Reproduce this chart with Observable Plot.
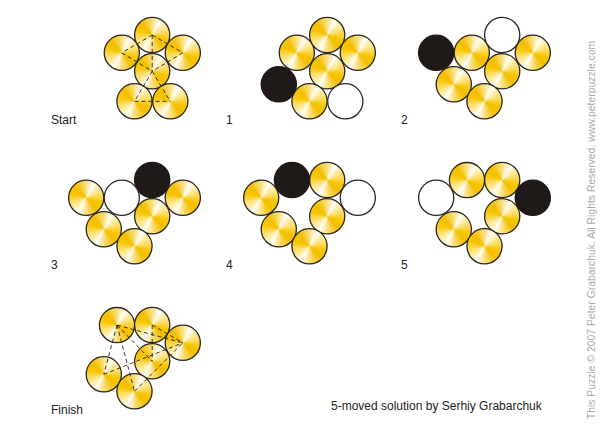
<!DOCTYPE html>
<html>
<head>
<meta charset="utf-8">
<script src="https://cdn.jsdelivr.net/npm/d3@7"></script>
<script src="https://cdn.jsdelivr.net/npm/@observablehq/plot@0.6"></script>
<style>
  html, body { margin: 0; padding: 0; background: #fff; }
  #wrap { position: relative; width: 600px; height: 430px; font-family: "Liberation Sans", Arial, sans-serif; }
  #caption { position: absolute; left: 331px; top: 399px; font-size: 12px; color: #222; white-space: nowrap; }
  #copy { position: absolute; left: 591px; top: 230px; font-size: 10.4px; color: #aaa; white-space: nowrap;
          transform: translate(-50%, -50%) rotate(-90deg); }
</style>
</head>
<body>
<div id="wrap">
  <div id="chart"></div>
  <div id="caption">5-moved solution by Serhiy Grabarchuk</div>
  <div id="copy">This Puzzle © 2007 Peter Grabarchuk. All Rights Reserved. www.peterpuzzle.com</div>
</div>
<script>
// Named coin spots (local panel coordinates)
const spotNames = ["A", "B", "C", "D", "E", "F", "G", "H", "I"];
const spotX = [111.7, 81.3, 142.3, 111.7, 94.0, 129.8, 63.3, 45.7, 76.5];
const spotY = [28.5, 46.3, 46.3, 64.8, 94.8, 94.8, 77.8, 46.3, 28.6];

// Panels: label, column, row
const panelLabels = ["Start", "1", "2", "3", "4", "5", "Finish"];
const panelCol = [0, 1, 2, 0, 1, 2, 0];
const panelRow = [0, 0, 0, 1, 1, 1, 2];

// Coins of each panel: gold coins, black (moved) coin, white (vacated) spot
const goldSpots = [
  ["A", "B", "C", "D", "E", "F"],
  ["A", "B", "C", "D", "E"],
  ["B", "C", "D", "G", "E"],
  ["H", "C", "D", "G", "E"],
  ["H", "A", "D", "G", "E"],
  ["I", "A", "D", "G", "E"],
  ["I", "A", "C", "D", "G", "E"]
];
const blackSpots = [null, "G", "H", "A", "I", "C", null];
const whiteSpots = [null, "F", "A", "B", "C", "H", null];

// Dashed lines in Start and Finish
const startLines = [["A","B"],["A","C"],["A","D"],["B","D"],["C","D"],["D","E"],["D","F"],["E","F"]];
const finishLines = [["I","C"],["A","C"],["A","D"],["I","D"],["I","G"],["I","E"],["G","C"],["E","C"]];

// ---- build tables
const spot = Object.fromEntries(spotNames.map((n, i) => [n, {x: spotX[i], y: spotY[i]}]));
const coins = [];
panelLabels.forEach((lab, p) => {
  goldSpots[p].forEach(s => coins.push({p, type: "gold", ...spot[s], col: panelCol[p], row: panelRow[p]}));
  if (blackSpots[p]) coins.push({p, type: "black", ...spot[blackSpots[p]], col: panelCol[p], row: panelRow[p]});
  if (whiteSpots[p]) coins.push({p, type: "white", ...spot[whiteSpots[p]], col: panelCol[p], row: panelRow[p]});
});
const links = [];
[[0, startLines], [6, finishLines]].forEach(([p, ls]) => ls.forEach(([a, b]) =>
  links.push({x1: spot[a].x, y1: spot[a].y, x2: spot[b].x, y2: spot[b].y, col: panelCol[p], row: panelRow[p]})));
const panels = panelLabels.map((label, p) => ({label, col: panelCol[p], row: panelRow[p]}));

// ---- conic coin texture
function coinTexture() {
  const n = 200, c = document.createElement("canvas");
  c.width = c.height = n;
  const ctx = c.getContext("2d");
  let g;
  if (ctx.createConicGradient) {
    g = ctx.createConicGradient(-Math.PI / 3, n / 2, n / 2);
    const stops = [[0, "#ffffff"], [0.03, "#fff4c4"], [0.12, "#fde070"], [0.22, "#f7c600"], [0.30, "#f4bf00"], [0.42, "#fbe284"],
                   [0.5, "#ffffff"], [0.53, "#fff4c4"], [0.62, "#fde070"], [0.72, "#f7c600"], [0.80, "#f4bf00"], [0.92, "#fbe284"], [1, "#ffffff"]];
    stops.forEach(([o, col]) => g.addColorStop(o, col));
  } else {
    g = ctx.createLinearGradient(0, 0, n, n);
    g.addColorStop(0, "#f4bf00"); g.addColorStop(0.5, "#fff4c4"); g.addColorStop(1, "#f4bf00");
  }
  ctx.fillStyle = g;
  ctx.fillRect(0, 0, n, n);
  return c.toDataURL();
}

const R = 17.6;
const common = {fx: "col", fy: "row"};
const chart = Plot.plot({
  width: 600,
  height: 430,
  marginLeft: 40,
  marginRight: 35,
  marginTop: 5,
  marginBottom: 9,
  fx: {axis: null, domain: [0, 1, 2], paddingInner: 0, paddingOuter: 0},
  fy: {axis: null, domain: [0, 1, 2], paddingInner: 20.5 / 145.5, paddingOuter: 0},
  x: {axis: null, domain: [0, 175]},
  y: {axis: null, domain: [0, 125], reverse: true},
  marks: [
    Plot.dot(coins.filter(d => d.type === "gold"), {...common, x: "x", y: "y", r: R, fill: "url(#coinfill)", stroke: "#2a2623", strokeWidth: 1.3}),
    Plot.dot(coins.filter(d => d.type === "black"), {...common, x: "x", y: "y", r: R, fill: "#1f1a17", stroke: "#1f1a17", strokeWidth: 1.3}),
    Plot.dot(coins.filter(d => d.type === "white"), {...common, x: "x", y: "y", r: R, fill: "#ffffff", stroke: "#2a2623", strokeWidth: 1.3}),
    Plot.link(links, {...common, x1: "x1", y1: "y1", x2: "x2", y2: "y2", stroke: "#222", strokeWidth: 0.9, strokeDasharray: "4,3"}),
    Plot.text(panels, {...common, text: "label", frameAnchor: "bottom-left", textAnchor: "start", lineAnchor: "middle",
                       dx: 10.5, dy: -11.5, fontSize: 12, fill: "#222", fontFamily: "Liberation Sans, Arial, sans-serif"})
  ]
});

// pattern definition for gold coins
const svg = d3.select(chart);
const defs = svg.insert("defs", ":first-child");
const pat = defs.append("pattern").attr("id", "coinfill")
  .attr("patternUnits", "objectBoundingBox").attr("patternContentUnits", "objectBoundingBox")
  .attr("width", 1).attr("height", 1);
pat.append("image").attr("href", coinTexture()).attr("x", 0).attr("y", 0)
  .attr("width", 1).attr("height", 1).attr("preserveAspectRatio", "none");

document.getElementById("chart").appendChild(chart);
</script>
</body>
</html>
